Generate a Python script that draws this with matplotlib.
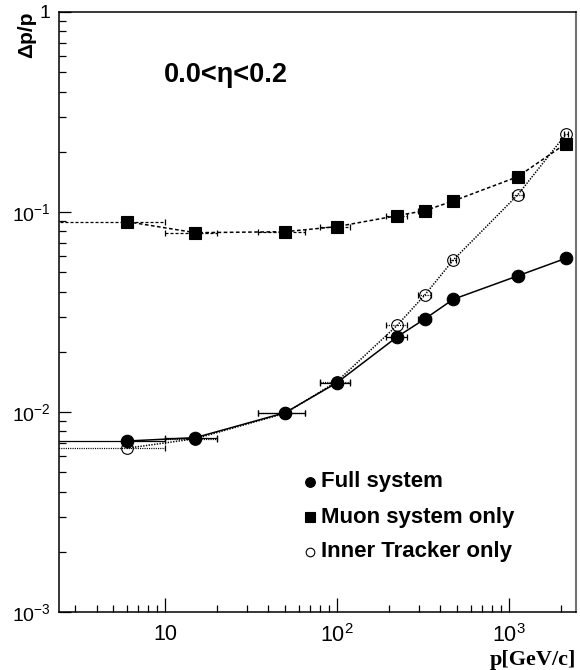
import numpy as np
import matplotlib.pyplot as plt

plt.rcParams['font.family'] = ['Liberation Sans', 'DejaVu Sans']
plt.rcParams['mathtext.fontset'] = 'custom'
plt.rcParams['mathtext.rm'] = 'Liberation Sans'
plt.rcParams['mathtext.bf'] = 'Liberation Sans:bold'

# Momentum points (GeV/c) and bin half-widths
Momentum = [6, 15, 50, 100, 225, 325, 475, 1125, 2150]
MomentumErr = [4, 5, 15, 20, 32, 27, 20, 80, 50]

# Relative momentum resolution dp/p for each configuration
ResFull = [0.00716, 0.00744, 0.00992, 0.0140, 0.0238, 0.0292, 0.0366, 0.0479, 0.0587]
ResMuon = [0.0895, 0.0788, 0.0797, 0.0845, 0.0959, 0.1016, 0.1135, 0.150, 0.220]
ResInner = [0.00659, 0.00735, 0.00985, 0.0142, 0.0272, 0.0385, 0.0575, 0.1216, 0.245]

EtaText = '0.0<η<0.2'
LegendNames = ['Full system', 'Muon system only', 'Inner Tracker only']

XTicks = [10, 100, 1000]
XTickLabels = ['10', r'$\mathregular{10^{2}}$', r'$\mathregular{10^{3}}$']
YTicks = [1e-3, 1e-2, 1e-1, 1]
YTickLabels = [r'$\mathregular{10^{-3}}$', r'$\mathregular{10^{-2}}$', r'$\mathregular{10^{-1}}$', '1']

fig = plt.figure(figsize=(5.8, 6.7), dpi=100)
ax = fig.add_axes([59/580, 58/670, 517/580, 600/670])
ax.set_xscale('log')
ax.set_yscale('log')
ax.set_xlim(2.42, 2460)
ax.set_ylim(1e-3, 1)


def DrawGraph(y, ls, marker, mfc, ms, mew):
    eb = ax.errorbar(Momentum, y, xerr=MomentumErr, fmt='none', ecolor='k',
                     elinewidth=0.9, capsize=2.5, capthick=0.9, zorder=2)
    eb[2][0].set_linestyle(ls)
    ax.plot(Momentum, y, color='k', lw=1.1, linestyle=ls, zorder=3)
    ax.plot(Momentum, y, linestyle='none', marker=marker, mfc=mfc, mec='k',
            ms=ms, mew=mew, zorder=4)


DrawGraph(ResMuon, (0, (2.4, 1.6)), 's', 'k', 8.2, 0.8)
DrawGraph(ResFull, '-', 'o', 'k', 9.0, 0.8)
DrawGraph(ResInner, (0, (0.9, 0.9)), 'o', 'none', 8.4, 0.8)

# ticks inside, left and bottom only
ax.set_xticks(XTicks, labels=XTickLabels)
ax.set_yticks(YTicks, labels=YTickLabels)
ax.tick_params(axis='x', which='major', direction='in', length=10, width=0.9,
               labelsize=15.5, pad=9)
ax.tick_params(axis='x', which='minor', direction='in', length=5, width=0.9)
ax.tick_params(axis='y', which='major', direction='in', length=8.6, width=0.9,
               labelsize=14, pad=6)
ax.tick_params(axis='y', which='minor', direction='in', length=5, width=0.9)
ax.yaxis.set_minor_formatter(plt.NullFormatter())
ax.xaxis.set_minor_formatter(plt.NullFormatter())

for s in ['left', 'bottom', 'top']:
    ax.spines[s].set_linewidth(1.1)
ax.spines['right'].set_linewidth(1.5)
ax.spines['right'].set_color('0.45')

ax.text(-0.062, 1.0, 'Δp/p', transform=ax.transAxes, rotation=90,
        ha='center', va='top', fontsize=15, fontweight='bold')
ax.text(1.0, -0.088, 'p[GeV/c]', transform=ax.transAxes, ha='right',
        va='baseline', fontsize=16, fontweight='bold', family='Liberation Serif')
ax.text(0.323, 0.895, EtaText, transform=ax.transAxes, ha='center',
        va='center', fontsize=19.5, fontweight='bold')

# legend drawn by hand
LegMarkers = [('o', 'k', 7.0), ('s', 'k', 6.6), ('o', 'none', 6.2)]
LegY = [(612-482)/600, (612-517)/600, (612-552)/600]
for (m, fc, ms), yy, name in zip(LegMarkers, LegY, LegendNames):
    ax.plot([(310-59)/517], [yy], marker=m, mfc=fc, mec='k', ms=ms, mew=0.8,
            transform=ax.transAxes, clip_on=False)
    ax.text((321-59)/517, yy, name, transform=ax.transAxes, ha='left',
            va='center', fontsize=16, fontweight='bold')

plt.savefig('out.png', dpi=100)
